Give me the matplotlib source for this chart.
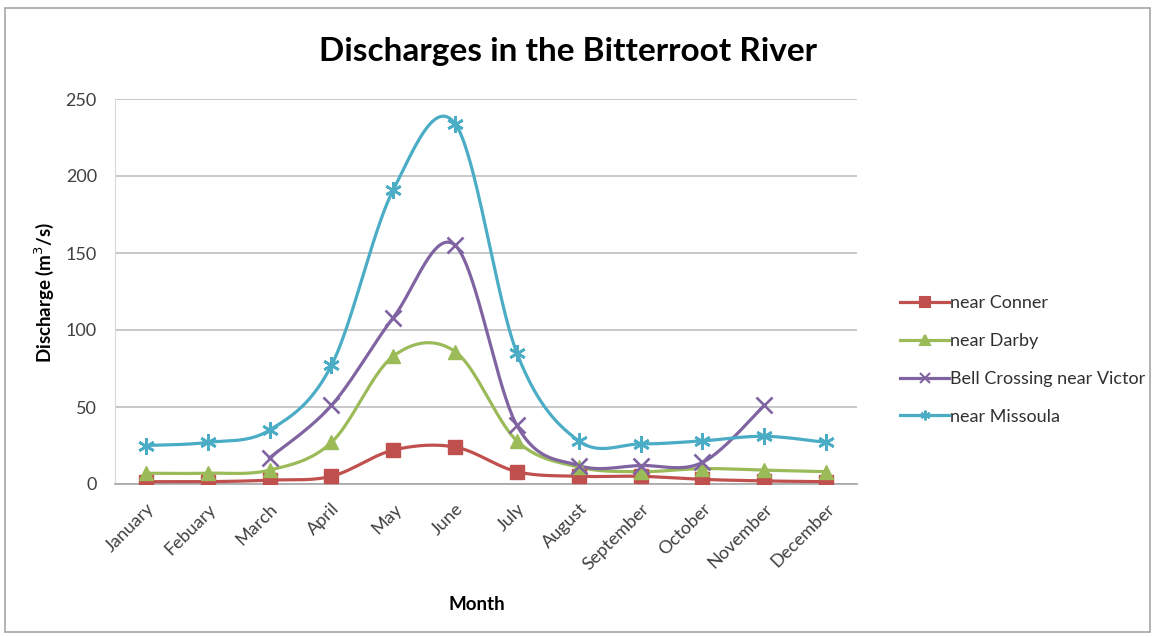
import numpy as np
import matplotlib.pyplot as plt
from matplotlib.patches import Rectangle

plt.rcParams['font.family'] = ['Lato', 'DejaVu Sans']

# Datos (m3/s)
meses = ["January", "Febuary", "March", "April", "May", "June",
         "July", "August", "September", "October", "November", "December"]
conner = [1.5, 1.5, 2.5, 5, 22, 24, 8, 5, 5, 3, 2, 1.5]
darby = [7, 7, 9, 27, 83, 86, 28, 11, 8, 10, 9, 8]
bell = [np.nan, np.nan, 17, 51, 108, 155, 38, 12, 12, 14, 51, np.nan]
missoula = [25, 27, 35, 77, 191, 234, 85, 28, 26, 28, 31, 27]

nombres = ["near Conner", "near Darby", "Bell Crossing near Victor", "near Missoula"]
colores = ["#C0504D", "#9BBB59", "#8064A2", "#4BACC6"]
marcadores = ["s", "^", "x", (6, 2, 0)]


def curva_suave(x, y, n=40):
    # curva tipo Excel (Bezier con tangentes Catmull-Rom)
    x = np.asarray(x, float)
    y = np.asarray(y, float)
    px = np.concatenate([[x[0]], x, [x[-1]]])
    py = np.concatenate([[y[0]], y, [y[-1]]])
    t = np.linspace(0, 1, n)[:, None]
    puntos = []
    for i in range(len(x) - 1):
        p0 = np.array([px[i], py[i]])
        p1 = np.array([px[i + 1], py[i + 1]])
        p2 = np.array([px[i + 2], py[i + 2]])
        p3 = np.array([px[i + 3], py[i + 3]])
        c1 = p1 + (p2 - p0) / 6
        c2 = p2 - (p3 - p1) / 6
        b = ((1 - t) ** 3) * p1 + 3 * ((1 - t) ** 2) * t * c1 \
            + 3 * (1 - t) * t ** 2 * c2 + t ** 3 * p2
        puntos.append(b)
    puntos = np.vstack(puntos)
    return puntos[:, 0], puntos[:, 1]


fig = plt.figure(figsize=(11.57, 6.37), dpi=100)
W, H = 1157, 637
ax = fig.add_axes([115 / W, 1 - 484 / H, 742 / W, 385 / H])

# marco exterior
fig.patches.append(Rectangle((5 / W, 5 / H), 1145 / W, 624 / H,
                             transform=fig.transFigure, fill=False,
                             edgecolor="#A6A6A6", linewidth=1.2))

x = np.arange(len(meses))
series = [conner, darby, bell, missoula]
for datos, nombre, color, marca in zip(series, nombres, colores, marcadores):
    datos = np.asarray(datos, float)
    ok = ~np.isnan(datos)
    xs, ys = curva_suave(x[ok], datos[ok])
    ax.plot(xs, ys, color=color, linewidth=2.3, zorder=3)
    if marca in ("s", "^"):
        grueso, tam = 1, 10
    else:
        grueso, tam = 1.9, 12
    ax.plot(x[ok], datos[ok], linestyle="none", marker=marca, color=color,
            markersize=tam, markeredgewidth=grueso, zorder=4)
    # entrada de leyenda
    ax.plot([], [], color=color, linewidth=2.3, marker=marca, markersize=7,
            markeredgewidth=1.5, label=nombre)

ax.set_xlim(-0.5, 11.5)
ax.set_ylim(0, 250)
ax.set_yticks([0, 50, 100, 150, 200, 250])
ax.set_xticks(x)
ax.set_xticklabels(meses, rotation=45, ha="right", rotation_mode="anchor")
ax.tick_params(axis="both", length=0, labelsize=13, colors="#404040")
ax.tick_params(axis="y", pad=13)
ax.tick_params(axis="x", pad=12)
ax.grid(axis="y", color="#BFBFBF", linewidth=1.2)
ax.set_axisbelow(True)
for lado in ["top", "right"]:
    ax.spines[lado].set_visible(False)
ax.spines["left"].set_color("#D9D9D9")
ax.spines["bottom"].set_color("#A6A6A6")
ax.spines["bottom"].set_linewidth(1.2)

fig.text(568 / W, 1 - 52 / H, "Discharges in the Bitterroot River",
         ha="center", va="center", fontsize=24, fontweight="bold")
fig.text(44 / W, 1 - 292 / H, "Discharge (m$^3$/s)", rotation=90,
         ha="center", va="center", fontsize=13.5, fontweight="bold")
fig.text(477 / W, 1 - 605 / H, "Month", ha="center", va="center",
         fontsize=13.5, fontweight="bold")

fig.legend(loc="center left", bbox_to_anchor=(884 / W, 1 - 360 / H),
           frameon=False, fontsize=13, labelspacing=1.2,
           handlelength=2.7, handletextpad=0.05, labelcolor="#303030")

fig.savefig("out.png", dpi=100)
